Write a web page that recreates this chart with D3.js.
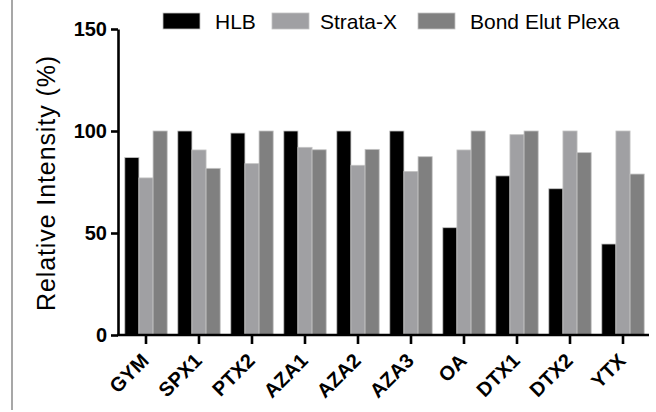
<!DOCTYPE html>
<html>
<head>
<meta charset="utf-8">
<script src="https://cdn.jsdelivr.net/npm/d3@7"></script>
<style>
  html, body { margin: 0; padding: 0; background: #fff; }
  svg { display: block; font-family: "Liberation Sans", Arial, sans-serif; }
</style>
</head>
<body>
<svg id="chart" width="656" height="412"></svg>
<script>
const categories = ["GYM", "SPX1", "PTX2", "AZA1", "AZA2", "AZA3", "OA", "DTX1", "DTX2", "YTX"];
const seriesNames = ["HLB", "Strata-X", "Bond Elut Plexa"];
const hlb    = [87, 100, 99, 100, 100, 100, 52.6, 78, 71.7, 44.6];
const strata = [77, 90.7, 84, 92, 83.2, 80.2, 90.7, 98.2, 100, 100];
const plexa  = [100, 81.7, 100, 90.8, 91, 87.4, 100, 100, 89.4, 78.9];
const yTicks = [0, 50, 100, 150];
const colors = ["#000000", "#a0a0a3", "#808080"];

const series = [hlb, strata, plexa];
const svg = d3.select("#chart");

// left border line
svg.append("line").attr("x1", 12).attr("x2", 12).attr("y1", 0).attr("y2", 410)
  .attr("stroke", "#8a8a8a").attr("stroke-width", 1.5);

const x0 = d3.scaleBand().domain(categories).range([119.5, 649.5]).paddingInner(0.2).paddingOuter(0.1);
const x1 = d3.scaleBand().domain(seriesNames).range([0, x0.bandwidth()]);
const y = d3.scaleLinear().domain([0, 150]).range([335, 29]);

// bars
const g = svg.append("g");
categories.forEach((c, i) => {
  seriesNames.forEach((s, j) => {
    const v = series[j][i];
    g.append("rect")
      .attr("x", x0(c) + x1(s))
      .attr("y", y(v))
      .attr("width", x1.bandwidth())
      .attr("height", y(0) - y(v))
      .attr("fill", colors[j])
      .attr("stroke", "#c4c4c4")
      .attr("stroke-width", 0.8);
  });
});

// y axis
const yAxis = svg.append("g").attr("transform", "translate(118,0)")
  .call(d3.axisLeft(y).tickValues(yTicks).tickSize(7).tickSizeOuter(0).tickPadding(4));
yAxis.select(".domain").attr("stroke", "#000").attr("stroke-width", 2.6);
yAxis.selectAll(".tick line").attr("stroke", "#000").attr("stroke-width", 2.6);
yAxis.selectAll(".tick text").attr("font-size", 20).attr("font-weight", "bold")
  .attr("fill", "#000").attr("font-family", "'Liberation Sans', Arial, sans-serif");

// x axis
const xAxis = svg.append("g").attr("transform", "translate(0,335)")
  .call(d3.axisBottom(x0).tickSize(9).tickSizeOuter(0));
xAxis.select(".domain").attr("stroke", "#000").attr("stroke-width", 2.6)
  .attr("d", "M117,0H649");
xAxis.selectAll(".tick line").attr("stroke", "#000").attr("stroke-width", 2.6);
xAxis.selectAll(".tick text")
  .attr("font-size", 20).attr("font-weight", "bold").attr("fill", "#000")
  .attr("font-family", "'Liberation Sans', Arial, sans-serif")
  .attr("text-anchor", "end")
  .attr("dy", null)
  .attr("y", 0)
  .attr("transform", "translate(4,27) rotate(-45)");

// y title
svg.append("text")
  .attr("transform", "translate(55,183) rotate(-90)")
  .attr("text-anchor", "middle")
  .attr("font-size", 25)
  .attr("letter-spacing", 0.9)
  .attr("fill", "#000")
  .text("Relative Intensity (%)");

// legend
const legendX = [163, 272, 418];
const legendTextX = [215, 320, 470];
seriesNames.forEach((s, j) => {
  svg.append("rect").attr("x", legendX[j]).attr("y", 13).attr("width", 37).attr("height", 16)
    .attr("fill", colors[j]).attr("stroke", "#c4c4c4").attr("stroke-width", 0.8);
  svg.append("text").attr("x", legendTextX[j]).attr("y", 28.5)
    .attr("font-size", 21).attr("fill", "#000").text(s);
});
</script>
</body>
</html>
